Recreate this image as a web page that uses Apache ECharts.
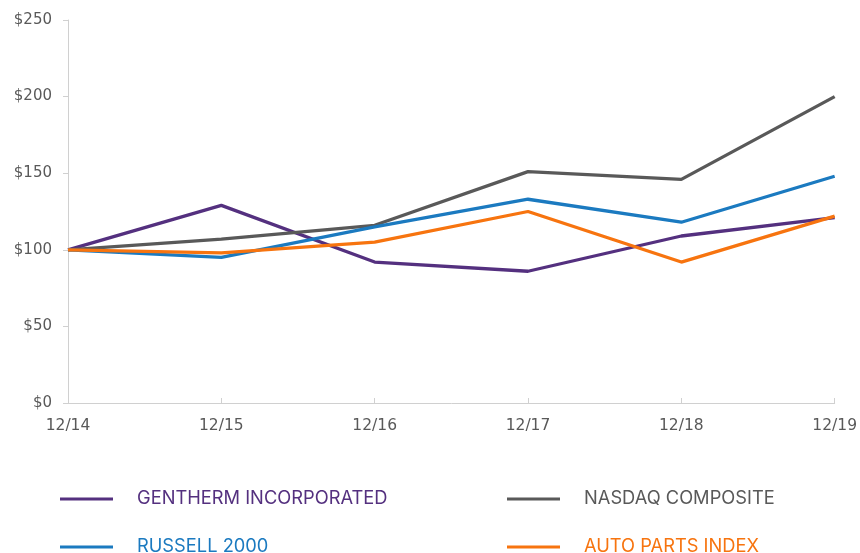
<!DOCTYPE html>
<html>
<head>
<meta charset="utf-8">
<script src="https://cdn.jsdelivr.net/npm/echarts@6/dist/echarts.min.js"></script>
<style>
  html, body { margin: 0; padding: 0; background: #fff; }
  #chart { width: 860px; height: 553px; }
</style>
</head>
<body>
<div id="chart"></div>
<script>
var years = ['12/14', '12/15', '12/16', '12/17', '12/18', '12/19'];
var gentherm = [100, 129, 92, 86, 109, 121];
var nasdaq = [100, 107, 116, 151, 146, 200];
var russell = [100, 95, 115, 133, 118, 148];
var autoParts = [100, 98, 105, 125, 92, 122];

var names = ['GENTHERM INCORPORATED', 'NASDAQ COMPOSITE', 'RUSSELL 2000', 'AUTO PARTS INDEX'];
var colors = ['#54307f', '#595959', '#1b7ac0', '#f7740f'];
var values = [gentherm, nasdaq, russell, autoParts];
var legendPos = [[60, 490], [507, 490], [60, 538], [507, 538]];

var chart = echarts.init(document.getElementById('chart'));

var axisFont = '"DejaVu Sans", Verdana, sans-serif';
var legendFont = 'Inter, "Open Sans", sans-serif';

var option = {
  animation: false,
  grid: { left: 68, right: 25, top: 20, bottom: 150 },
  legend: names.map(function (n, i) {
    return {
      data: [n],
      left: legendPos[i][0],
      top: legendPos[i][1],
      padding: 0,
      icon: 'rect',
      itemWidth: 53,
      itemHeight: 3,
      textStyle: {
        color: colors[i],
        fontSize: 18.3,
        fontFamily: legendFont,
        padding: [0, 0, 0, 19]
      }
    };
  }),
  xAxis: {
    type: 'category',
    data: years,
    boundaryGap: false,
    axisLine: { lineStyle: { color: '#d0d0d0', width: 1 } },
    axisTick: { inside: true, length: 5, lineStyle: { color: '#d0d0d0' } },
    axisLabel: { color: '#595959', fontSize: 15.5, fontFamily: axisFont, margin: 15 }
  },
  yAxis: {
    type: 'value',
    min: 0,
    max: 250,
    interval: 50,
    splitLine: { show: false },
    axisLine: { show: true, lineStyle: { color: '#d0d0d0', width: 1 } },
    axisTick: { show: true, length: 5, lineStyle: { color: '#d0d0d0' } },
    axisLabel: {
      color: '#595959', fontSize: 15, fontFamily: axisFont, margin: 16,
      formatter: '${value}'
    }
  },
  series: names.map(function (n, i) {
    return {
      name: n,
      type: 'line',
      data: values[i],
      symbol: 'none',
      color: colors[i],
      lineStyle: { width: 3.3, color: colors[i] }
    };
  })
};

chart.setOption(option);
</script>
</body>
</html>
